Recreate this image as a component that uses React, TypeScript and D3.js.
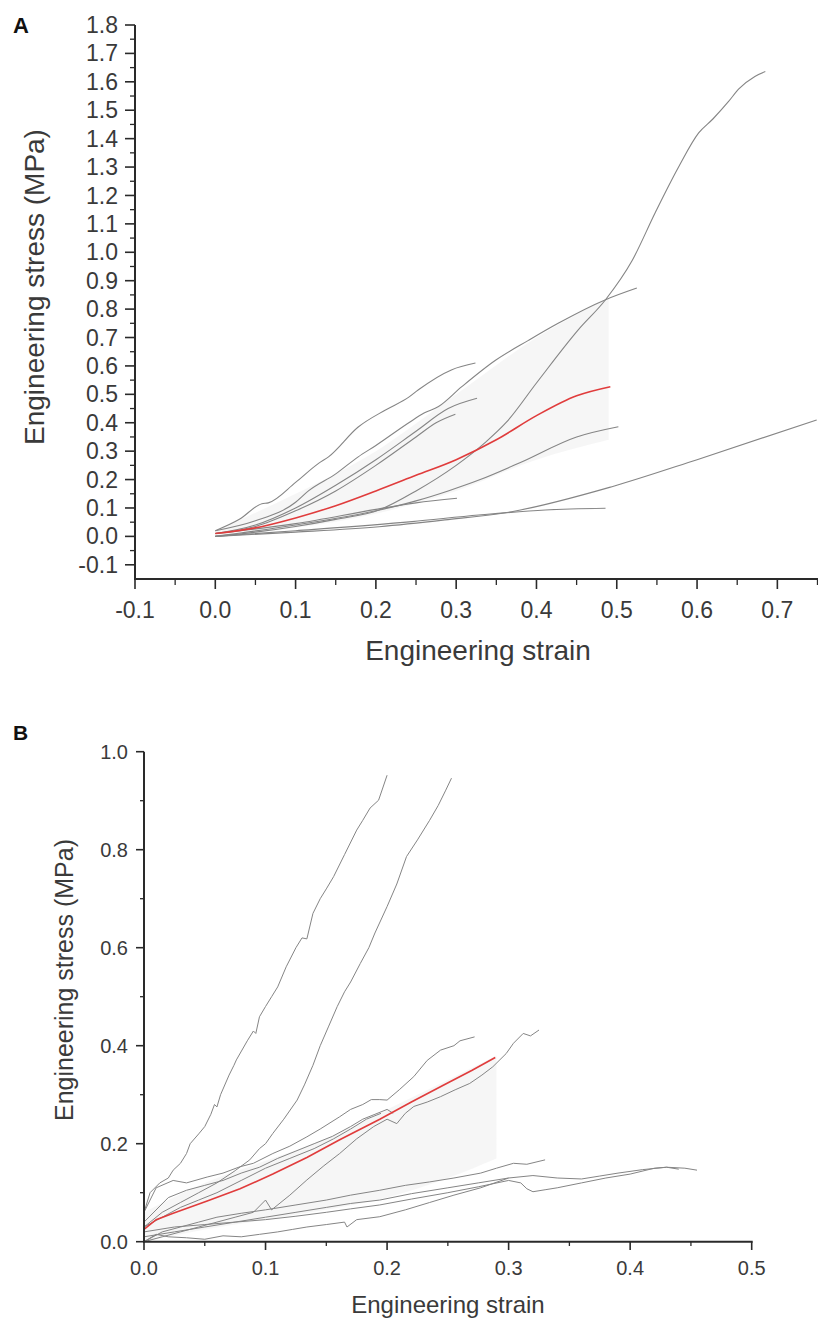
import React from "react";
import * as d3 from "d3";

type P = [number, number];

// ---------- Panel A data ----------
const A_X_TICKS = [-0.1, 0.0, 0.1, 0.2, 0.3, 0.4, 0.5, 0.6, 0.7];
const A_Y_TICKS = [-0.1, 0.0, 0.1, 0.2, 0.3, 0.4, 0.5, 0.6, 0.7, 0.8, 0.9, 1.0, 1.1, 1.2, 1.3, 1.4, 1.5, 1.6, 1.7, 1.8];

const A_LONG: P[] = [[0,0],[0.05,0.015],[0.1,0.035],[0.15,0.06],[0.204,0.093],[0.25,0.16],[0.3,0.25],[0.336,0.33],[0.362,0.4],[0.4,0.54],[0.452,0.727],[0.486,0.833],[0.519,0.97],[0.548,1.14],[0.577,1.3],[0.602,1.42],[0.62,1.47],[0.639,1.53],[0.652,1.575],[0.672,1.619],[0.685,1.636]];
const A_C1: P[] = [[0,0.02],[0.03,0.06],[0.058,0.115],[0.066,0.118],[0.1,0.19],[0.129,0.258],[0.141,0.28],[0.178,0.385],[0.212,0.445],[0.241,0.49],[0.253,0.516],[0.294,0.586],[0.324,0.61]];
const A_C2: P[] = [[0,0.02],[0.05,0.055],[0.1,0.12],[0.116,0.16],[0.15,0.22],[0.178,0.28],[0.2,0.32],[0.241,0.4],[0.26,0.434],[0.278,0.457],[0.307,0.527],[0.349,0.62],[0.39,0.69],[0.427,0.75],[0.486,0.833],[0.525,0.874]];
const A_C3: P[] = [[0,0.01],[0.05,0.04],[0.1,0.1],[0.15,0.18],[0.2,0.27],[0.25,0.37],[0.29,0.45],[0.326,0.486]];
const A_C4: P[] = [[0,0.01],[0.05,0.035],[0.1,0.09],[0.15,0.16],[0.2,0.25],[0.25,0.35],[0.275,0.4],[0.299,0.43]];
const A_C5: P[] = [[0,0],[0.1,0.04],[0.2,0.09],[0.25,0.125],[0.29,0.16],[0.33,0.2],[0.38,0.26],[0.45,0.35],[0.502,0.386]];
const A_C6: P[] = [[0,0.01],[0.1,0.045],[0.2,0.095],[0.25,0.118],[0.301,0.134]];
const A_C7: P[] = [[0,0],[0.1,0.02],[0.245,0.052],[0.328,0.075],[0.411,0.093],[0.486,0.099]];
const A_C8: P[] = [[0,0],[0.1,0.015],[0.204,0.034],[0.286,0.058],[0.369,0.087],[0.494,0.175],[0.6,0.27],[0.749,0.41]];
const A_MEAN: P[] = [[0,0.01],[0.05,0.03],[0.1,0.065],[0.15,0.108],[0.2,0.16],[0.25,0.215],[0.3,0.27],[0.35,0.34],[0.4,0.425],[0.45,0.495],[0.492,0.527]];
const A_BAND_X = [0, 0.1, 0.2, 0.3, 0.4, 0.49];
const A_BAND_UP = [0.02, 0.15, 0.3, 0.5, 0.7, 0.84];
const A_BAND_LO = [0, 0.03, 0.08, 0.16, 0.27, 0.34];

// ---------- Panel B data ----------
const B_X_TICKS = [0.0, 0.1, 0.2, 0.3, 0.4, 0.5];
const B_Y_TICKS = [0.0, 0.2, 0.4, 0.6, 0.8, 1.0];

const B_S1: P[] = [[0,0.06],[0.005,0.1],[0.013,0.12],[0.02,0.13],[0.024,0.146],[0.03,0.16],[0.035,0.18],[0.038,0.2],[0.045,0.22],[0.05,0.235],[0.055,0.26],[0.058,0.28],[0.06,0.275],[0.063,0.3],[0.07,0.34],[0.074,0.36],[0.076,0.371],[0.085,0.41],[0.09,0.43],[0.092,0.425],[0.095,0.459],[0.1,0.48],[0.105,0.5],[0.11,0.52],[0.117,0.561],[0.125,0.6],[0.13,0.62],[0.134,0.618],[0.139,0.67],[0.145,0.7],[0.15,0.72],[0.156,0.745],[0.165,0.79],[0.175,0.84],[0.18,0.86],[0.186,0.885],[0.193,0.901],[0.197,0.93],[0.2,0.952]];
const B_S2: P[] = [[0,0.03],[0.015,0.06],[0.03,0.08],[0.045,0.1],[0.06,0.12],[0.075,0.145],[0.087,0.167],[0.095,0.19],[0.1,0.2],[0.106,0.221],[0.115,0.25],[0.126,0.289],[0.132,0.32],[0.139,0.36],[0.145,0.4],[0.152,0.44],[0.159,0.48],[0.165,0.51],[0.17,0.53],[0.178,0.568],[0.185,0.6],[0.19,0.63],[0.2,0.684],[0.208,0.73],[0.216,0.786],[0.225,0.82],[0.235,0.86],[0.242,0.89],[0.248,0.92],[0.253,0.946]];
const B_U1: P[] = [[0,0.06],[0.01,0.11],[0.024,0.125],[0.035,0.12],[0.052,0.132],[0.065,0.14],[0.079,0.153],[0.09,0.16],[0.106,0.18],[0.12,0.195],[0.134,0.214],[0.145,0.23],[0.161,0.255],[0.17,0.27],[0.18,0.28],[0.187,0.29],[0.194,0.29],[0.2,0.289],[0.21,0.31],[0.222,0.337],[0.233,0.37],[0.244,0.391],[0.255,0.4],[0.26,0.41],[0.272,0.418]];
const B_U2: P[] = [[0,0.04],[0.02,0.09],[0.035,0.105],[0.05,0.115],[0.065,0.125],[0.08,0.14],[0.095,0.152],[0.11,0.17],[0.125,0.185],[0.14,0.2],[0.155,0.215],[0.17,0.235],[0.18,0.25],[0.19,0.26],[0.2,0.27],[0.205,0.262]];
const B_U3: P[] = [[0,0.03],[0.015,0.05],[0.03,0.07],[0.045,0.085],[0.06,0.1],[0.08,0.125],[0.1,0.15],[0.12,0.17],[0.14,0.19],[0.156,0.21],[0.17,0.23],[0.183,0.25],[0.195,0.262]];
const B_M1: P[] = [[0,0],[0.015,0.01],[0.03,0.02],[0.045,0.03],[0.06,0.04],[0.075,0.05],[0.09,0.06],[0.1,0.085],[0.105,0.065],[0.12,0.095],[0.134,0.126],[0.148,0.155],[0.161,0.18],[0.175,0.21],[0.189,0.235],[0.2,0.25],[0.208,0.241],[0.215,0.262],[0.222,0.276],[0.233,0.285],[0.244,0.296],[0.256,0.31],[0.268,0.323],[0.278,0.34],[0.287,0.357],[0.298,0.384],[0.304,0.405],[0.312,0.425],[0.318,0.42],[0.325,0.432]];
const B_L1: P[] = [[0,0],[0.015,0.02],[0.03,0.03],[0.045,0.04],[0.06,0.05],[0.08,0.058],[0.1,0.065],[0.125,0.075],[0.15,0.085],[0.17,0.095],[0.194,0.105],[0.215,0.115],[0.235,0.122],[0.255,0.13],[0.277,0.14],[0.29,0.15],[0.304,0.16],[0.315,0.158],[0.33,0.167]];
const B_L2: P[] = [[0,0.01],[0.025,0.02],[0.05,0.03],[0.075,0.04],[0.1,0.05],[0.125,0.06],[0.15,0.07],[0.17,0.078],[0.194,0.085],[0.22,0.098],[0.25,0.11],[0.275,0.12],[0.3,0.13],[0.32,0.135],[0.34,0.13],[0.36,0.128],[0.375,0.134],[0.39,0.14],[0.41,0.147],[0.43,0.152],[0.445,0.15],[0.455,0.146]];
const B_L3: P[] = [[0,0.02],[0.025,0.03],[0.05,0.035],[0.075,0.04],[0.1,0.045],[0.125,0.052],[0.15,0.06],[0.17,0.067],[0.194,0.075],[0.22,0.087],[0.25,0.1],[0.275,0.112],[0.3,0.125],[0.31,0.12],[0.315,0.108],[0.32,0.102],[0.33,0.106],[0.34,0.11],[0.36,0.12],[0.38,0.13],[0.4,0.138],[0.42,0.15],[0.43,0.152],[0.44,0.148]];
const B_L4: P[] = [[0,0],[0.01,0.015],[0.02,0.01],[0.035,0.008],[0.05,0.005],[0.065,0.012],[0.08,0.01],[0.095,0.015],[0.11,0.02],[0.122,0.025],[0.134,0.03],[0.15,0.035],[0.165,0.04],[0.167,0.03],[0.175,0.045],[0.194,0.051],[0.215,0.065],[0.235,0.08],[0.255,0.095],[0.277,0.11],[0.3,0.13]];
const B_MEAN: P[] = [[0,0.025],[0.01,0.045],[0.024,0.058],[0.052,0.083],[0.079,0.108],[0.106,0.138],[0.134,0.172],[0.161,0.208],[0.194,0.25],[0.22,0.285],[0.249,0.323],[0.27,0.35],[0.289,0.376]];
const B_BAND_X = [0, 0.05, 0.1, 0.15, 0.2, 0.25, 0.29];
const B_BAND_UP = [0.06, 0.12, 0.165, 0.21, 0.27, 0.33, 0.38];
const B_BAND_LO = [0.0, 0.025, 0.045, 0.065, 0.09, 0.13, 0.17];

const A_SERIES = [A_LONG, A_C1, A_C2, A_C3, A_C4, A_C5, A_C6, A_C7, A_C8];
const B_SERIES = [B_S1, B_S2, B_U1, B_U2, B_U3, B_M1, B_L1, B_L2, B_L3, B_L4];

const FONT = "'Liberation Sans', Arial, sans-serif";
const AXIS = "#2a2a2a";
const TXT = "#3a3a3a";
const GREY = "#858585";
const RED = "#e03c3c";

const fmt = (v: number) => (Math.abs(v) < 1e-9 ? "0.0" : v.toFixed(1));

function range(a: number, b: number, step: number) {
  const out: number[] = [];
  for (let v = a; v <= b + 1e-9; v += step) out.push(Math.round(v * 1000) / 1000);
  return out;
}

export default function App() {
  const xA = d3.scaleLinear().domain([-0.1, 0.75]).range([135, 817.5]);
  const yA = d3.scaleLinear().domain([-0.15, 1.8]).range([579, 25]);
  const xB = d3.scaleLinear().domain([0, 0.5]).range([144, 751.7]);
  const yB = d3.scaleLinear().domain([0, 1]).range([1241.7, 751.7]);

  const lineA = d3.line<P>().x((d) => xA(d[0])).y((d) => yA(d[1])).curve(d3.curveMonotoneX);
  const lineB = d3.line<P>().x((d) => xB(d[0])).y((d) => yB(d[1]));

  const bandA = d3
    .area<number>()
    .x((d) => xA(d))
    .y0((_, i) => yA(A_BAND_LO[i]))
    .y1((_, i) => yA(A_BAND_UP[i]))
    .curve(d3.curveMonotoneX);
  const bandB = d3
    .area<number>()
    .x((d) => xB(d))
    .y0((_, i) => yB(B_BAND_LO[i]))
    .y1((_, i) => yB(B_BAND_UP[i]))
    .curve(d3.curveMonotoneX);

  const aMinorX = range(-0.05, 0.75, 0.1);
  const aMinorY = range(-0.15, 1.75, 0.1).filter((v) => v > -0.149);
  const bMinorX = range(0.05, 0.45, 0.1);
  const bMinorY = range(0.1, 0.9, 0.2);

  return (
    <svg width={818} height={1320} style={{ position: "absolute", left: 0, top: 0, background: "#fff" }} fontFamily={FONT}>
      <rect x={0} y={0} width={818} height={1320} fill="#fff" />
      {/* ================= Panel A ================= */}
      <text x={13} y={33} fontSize={22} fontWeight="bold" fill="#111">A</text>
      <path d={bandA(A_BAND_X) || ""} fill="#ececec" opacity={0.45} />
      {A_SERIES.map((s, i) => (
        <path key={"a" + i} d={lineA(s) || ""} fill="none" stroke={GREY} strokeWidth={1.1} />
      ))}
      <path d={lineA(A_MEAN) || ""} fill="none" stroke={RED} strokeWidth={1.6} />
      <line x1={135} x2={135} y1={25} y2={579} stroke={AXIS} strokeWidth={2} />
      <line x1={134} x2={818} y1={579} y2={579} stroke={AXIS} strokeWidth={2} />
      {A_Y_TICKS.map((t) => (
        <g key={"ay" + t}>
          <line x1={125} x2={135} y1={yA(t)} y2={yA(t)} stroke={AXIS} strokeWidth={1.6} />
          <text x={118} y={yA(t)} dy="0.35em" textAnchor="end" fontSize={23} fill={TXT}>{fmt(t)}</text>
        </g>
      ))}
      {aMinorY.map((t) => (
        <line key={"aym" + t} x1={130} x2={135} y1={yA(t)} y2={yA(t)} stroke={AXIS} strokeWidth={1.3} />
      ))}
      {A_X_TICKS.map((t) => (
        <g key={"ax" + t}>
          <line x1={xA(t)} x2={xA(t)} y1={579} y2={589} stroke={AXIS} strokeWidth={1.6} />
          <text x={xA(t)} y={618} textAnchor="middle" fontSize={23} fill={TXT}>{fmt(t)}</text>
        </g>
      ))}
      {aMinorX.map((t) => (
        <line key={"axm" + t} x1={xA(t)} x2={xA(t)} y1={579} y2={585} stroke={AXIS} strokeWidth={1.3} />
      ))}
      <text x={478} y={660} textAnchor="middle" fontSize={28} fill={TXT}>Engineering strain</text>
      <text transform="translate(44,287) rotate(-90)" textAnchor="middle" fontSize={28} fill={TXT}>Engineering stress (MPa)</text>

      {/* ================= Panel B ================= */}
      <text x={13} y={740} fontSize={21} fontWeight="bold" fill="#111">B</text>
      <path d={bandB(B_BAND_X) || ""} fill="#ececec" opacity={0.45} />
      {B_SERIES.map((s, i) => (
        <path key={"b" + i} d={lineB(s) || ""} fill="none" stroke={GREY} strokeWidth={1} />
      ))}
      <path d={lineB(B_MEAN) || ""} fill="none" stroke={RED} strokeWidth={1.6} />
      <line x1={144} x2={144} y1={751.7} y2={1242.7} stroke={AXIS} strokeWidth={2} />
      <line x1={143} x2={752.7} y1={1241.7} y2={1241.7} stroke={AXIS} strokeWidth={2} />
      {B_Y_TICKS.map((t) => (
        <g key={"by" + t}>
          <line x1={136} x2={144} y1={yB(t)} y2={yB(t)} stroke={AXIS} strokeWidth={1.6} />
          <text x={128} y={yB(t)} dy="0.35em" textAnchor="end" fontSize={20} fill={TXT}>{fmt(t)}</text>
        </g>
      ))}
      {bMinorY.map((t) => (
        <line key={"bym" + t} x1={140} x2={144} y1={yB(t)} y2={yB(t)} stroke={AXIS} strokeWidth={1.3} />
      ))}
      {B_X_TICKS.map((t) => (
        <g key={"bx" + t}>
          <line x1={xB(t)} x2={xB(t)} y1={1241.7} y2={1250} stroke={AXIS} strokeWidth={1.6} />
          <text x={xB(t)} y={1275} textAnchor="middle" fontSize={20} fill={TXT}>{fmt(t)}</text>
        </g>
      ))}
      {bMinorX.map((t) => (
        <line key={"bxm" + t} x1={xB(t)} x2={xB(t)} y1={1241.7} y2={1246} stroke={AXIS} strokeWidth={1.3} />
      ))}
      <text x={448} y={1313} textAnchor="middle" fontSize={24} fill={TXT}>Engineering strain</text>
      <text transform="translate(73,980) rotate(-90)" textAnchor="middle" fontSize={25} fill={TXT}>Engineering stress (MPa)</text>
    </svg>
  );
}
